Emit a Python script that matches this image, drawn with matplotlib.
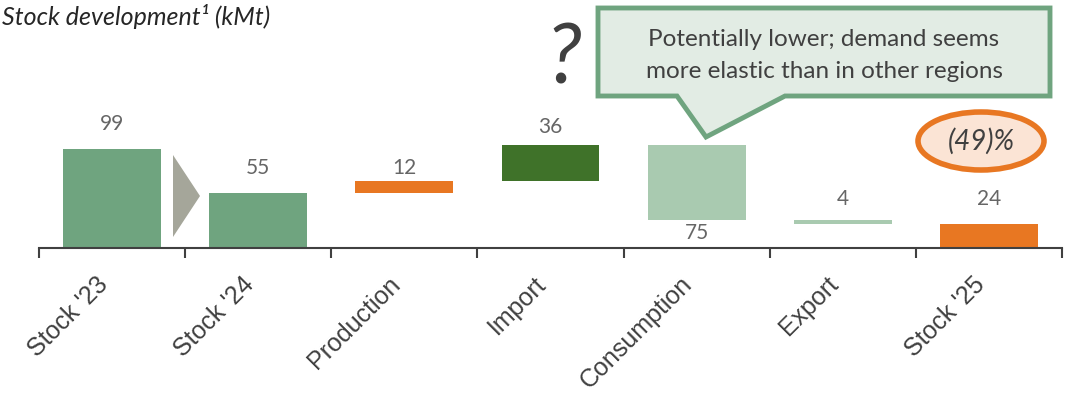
import matplotlib
matplotlib.use("Agg")
import matplotlib.pyplot as plt
import matplotlib.transforms as mtransforms
from matplotlib.patches import Polygon, Ellipse

# Stock development (kMt): opening stocks, flows, closing stock
categories = ["Stock '23", "Stock '24", "Production", "Import", "Consumption", "Export", "Stock '25"]
stock_23 = 99
stock_24 = 55
production = 12
imports = 36
consumption = -75
exports = -4
stock_25 = 24
change_label = "(49)%"

kinds = ["total", "total", "delta", "delta", "delta", "delta", "total"]
values = [stock_23, stock_24, production, imports, consumption, exports, stock_25]
colors = ["#6FA47F", "#6FA47F", "#E87722", "#3F7229", "#A9CAB0", "#A9CAB0", "#E87722"]
# gap between bar edge and its value label (kMt units)
label_gap = [25, 25, 13, 18, 13, 21, 25]

W, H = 1081, 397
fig = plt.figure(figsize=(W / 100, H / 100), dpi=100)

base_px = 248
left_px, right_px = 39, 1062
ax = fig.add_axes([left_px / W, (H - base_px) / H, (right_px - left_px) / W, base_px / H])
ax.set_xlim(-0.5, len(categories) - 0.5)
ax.set_ylim(0, base_px)
ax.patch.set_alpha(0)

bar_w = 0.67
running = 0
for i, (kind, v, c) in enumerate(zip(kinds, values, colors)):
    if kind == "total":
        bottom, top = 0, v
        running = v
    else:
        start = running
        running = running + v
        bottom, top = min(start, running), max(start, running)
    ax.bar(i, top - bottom, bottom=bottom, width=bar_w, color=c, linewidth=0, zorder=2)
    txt = f"{abs(v)}"
    if v < 0 and kind == "delta" and abs(v) > 10:
        ty = bottom - label_gap[i]
    else:
        ty = top + label_gap[i]
    ax.text(i, ty, txt, ha="center", va="center", fontsize=15, color="#666666",
            family=["Lato", "DejaVu Sans"], clip_on=False)

for s in ["top", "left", "right"]:
    ax.spines[s].set_visible(False)
ax.spines["bottom"].set_color("#404040")
ax.spines["bottom"].set_linewidth(1.5)
ax.set_yticks([])
ax.set_xticks(range(len(categories)))
ax.set_xticklabels(categories, rotation=45, ha="right", va="center", rotation_mode="anchor",
                   fontsize=18, color="#404040", family="Liberation Sans")
ax.tick_params(axis="x", which="major", length=0, pad=25)
shift = mtransforms.ScaledTranslation(-8 / 100, 2 / 100, fig.dpi_scale_trans)
for lab in ax.get_xticklabels():
    lab.set_transform(lab.get_transform() + shift)
ax.set_xticks([i - 0.5 for i in range(len(categories) + 1)], minor=True)
ax.tick_params(axis="x", which="minor", length=7, width=1.5, color="#404040", direction="out")


def px(x, y):
    return (x / W, 1 - y / H)


# step arrow between the two stock bars
fig.add_artist(Polygon([px(173, 155), px(200, 196), px(173, 237)], closed=True,
                       transform=fig.transFigure, facecolor="#A5A69A", edgecolor="none"))

# speech-bubble callout pointing at consumption
bubble = [px(598, 8), px(1050, 8), px(1050, 96), px(785, 96), px(706, 137),
          px(677, 96), px(598, 96)]
fig.add_artist(Polygon(bubble, closed=True, transform=fig.transFigure,
                       facecolor="#E2ECE4", edgecolor="#6FA47F", linewidth=3.5,
                       joinstyle="miter"))
fig.text(824 / W, 1 - 40 / H, "Potentially lower; demand seems", ha="center", va="center",
         fontsize=17.5, color="#404040", family=["Lato", "DejaVu Sans"])
fig.text(824 / W, 1 - 72 / H, "more elastic than in other regions", ha="center", va="center",
         fontsize=17.5, color="#404040", family=["Lato", "DejaVu Sans"])

fig.text(564 / W, 1 - 60 / H, "?", ha="center", va="center", fontsize=60, color="#404040",
         style="italic", family=["Lato", "DejaVu Sans"])

# percentage change badge
cx, cy = px(981, 141)
fig.add_artist(Ellipse((cx, cy), 126 / W, 58 / H, transform=fig.transFigure,
                       facecolor="#FBE4D5", edgecolor="#E87722", linewidth=4))
fig.text(cx, cy, change_label, ha="center", va="center", fontsize=20, style="italic",
         color="#404040", family=["Lato", "DejaVu Sans"])

fig.text(2 / W, 1 - 4 / H, "Stock development\u00b9 (kMt)", ha="left", va="top",
         fontsize=18, style="italic", color="#262626", family=["Lato", "DejaVu Sans"])

fig.savefig("out.png", dpi=100)
